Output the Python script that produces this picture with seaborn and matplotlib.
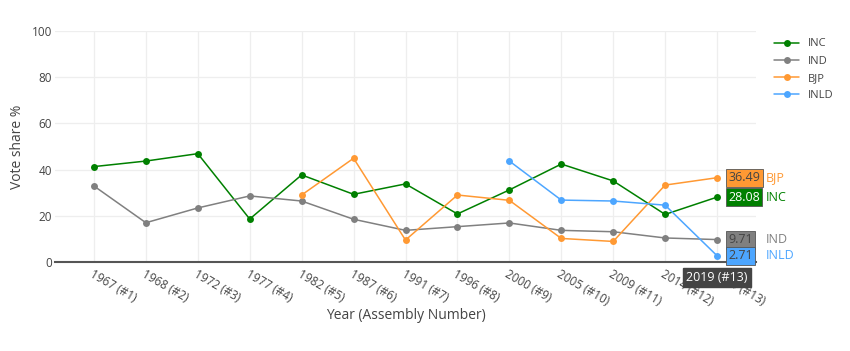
import matplotlib
matplotlib.use("Agg")
import matplotlib.pyplot as plt
import pandas as pd
import numpy as np
import seaborn as sns

years = ["1967 (#1)", "1968 (#2)", "1972 (#3)", "1977 (#4)", "1982 (#5)", "1987 (#6)",
         "1991 (#7)", "1996 (#8)", "2000 (#9)", "2005 (#10)", "2009 (#11)", "2014 (#12)",
         "2019 (#13)"]
inc = [41.3, 43.7, 46.9, 18.6, 37.7, 29.3, 33.8, 20.8, 31.2, 42.4, 35.1, 20.6, 28.08]
ind = [32.9, 17.0, 23.4, 28.6, 26.4, 18.5, 13.7, 15.3, 16.9, 13.7, 13.1, 10.4, 9.71]
bjp = [np.nan, np.nan, np.nan, np.nan, 29.0, 44.9, 9.5, 29.0, 26.7, 10.2, 8.9, 33.3, 36.49]
inld = [np.nan] * 8 + [43.7, 26.8, 26.4, 24.6, 2.71]

parties = ["INC", "IND", "BJP", "INLD"]
colors = {"INC": "#008000", "IND": "#808080", "BJP": "#ff9933", "INLD": "#4da6ff"}
text_on_box = {"INC": "white", "IND": "#444444", "BJP": "#444444", "INLD": "#444444"}

rows = []
for party, vals in zip(parties, [inc, ind, bjp, inld]):
    for i, v in enumerate(vals):
        rows.append({"idx": i, "party": party, "share": v})
df = pd.DataFrame(rows).dropna()

sns.set_style("white")
plt.rcParams["font.family"] = ["Open Sans", "DejaVu Sans"]

fig = plt.figure(figsize=(8.5, 3.51), dpi=100)
ax = fig.add_axes([55 / 850, 1 - 262 / 351, (756 - 55) / 850, (262 - 31) / 351])

sns.lineplot(data=df, x="idx", y="share", hue="party", hue_order=parties,
             palette=colors, marker="o", markersize=5, markeredgewidth=0,
             linewidth=1.1, ax=ax, legend=True)

ax.set_xlim(-0.75, 12.75)
ax.set_ylim(0, 100)
ax.set_yticks([0, 20, 40, 60, 80, 100])
ax.set_xticks(range(len(years)))
ax.set_xticklabels(years, rotation=-30, ha="left", va="top", rotation_mode="anchor")
ax.tick_params(axis="both", length=0, labelsize=8.5, labelcolor="#444444")
ax.tick_params(axis="x", pad=4)
ax.tick_params(axis="y", pad=2)
ax.grid(True, color="#eeeeee", linewidth=0.9)
ax.set_axisbelow(True)
for s in ["top", "right", "left"]:
    ax.spines[s].set_visible(False)
ax.spines["bottom"].set_color("#555555")
ax.spines["bottom"].set_linewidth(1.5)

ax.set_xlabel("Year (Assembly Number)", fontsize=10, color="#444444", labelpad=0)
ax.set_ylabel("Vote share %", fontsize=10, color="#444444", labelpad=5)

# hover-style labels at the last point
last = len(years) - 1
for party, vals in zip(parties, [inc, ind, bjp, inld]):
    v = vals[last]
    ax.annotate(f"{v:.2f}", xy=(last, v), xytext=(8, 0), textcoords="offset points",
                ha="left", va="center", fontsize=9, color=text_on_box[party],
                bbox=dict(boxstyle="square,pad=0.2", facecolor=colors[party],
                          edgecolor="#555555", linewidth=0.6), zorder=6)
    ax.annotate(party, xy=(last, v), xytext=(35, 0), textcoords="offset points",
                ha="left", va="center", fontsize=9, color=colors[party], zorder=6)

ax.annotate(years[last], xy=(last, 0), xytext=(0, -11), textcoords="offset points",
            ha="center", va="center", fontsize=9, color="white", annotation_clip=False,
            bbox=dict(boxstyle="square,pad=0.25", facecolor="#444444", edgecolor="#444444"),
            zorder=7)

handles, labels = ax.get_legend_handles_labels()
leg = ax.legend(handles, labels, loc="upper left", bbox_to_anchor=(770 / 850, 1 - 34 / 351),
                bbox_transform=fig.transFigure, frameon=False, fontsize=8,
                handlelength=2.2, labelspacing=0.55, borderaxespad=0)
for t in leg.get_texts():
    t.set_color("#444444")

fig.savefig("out.png", dpi=100)
